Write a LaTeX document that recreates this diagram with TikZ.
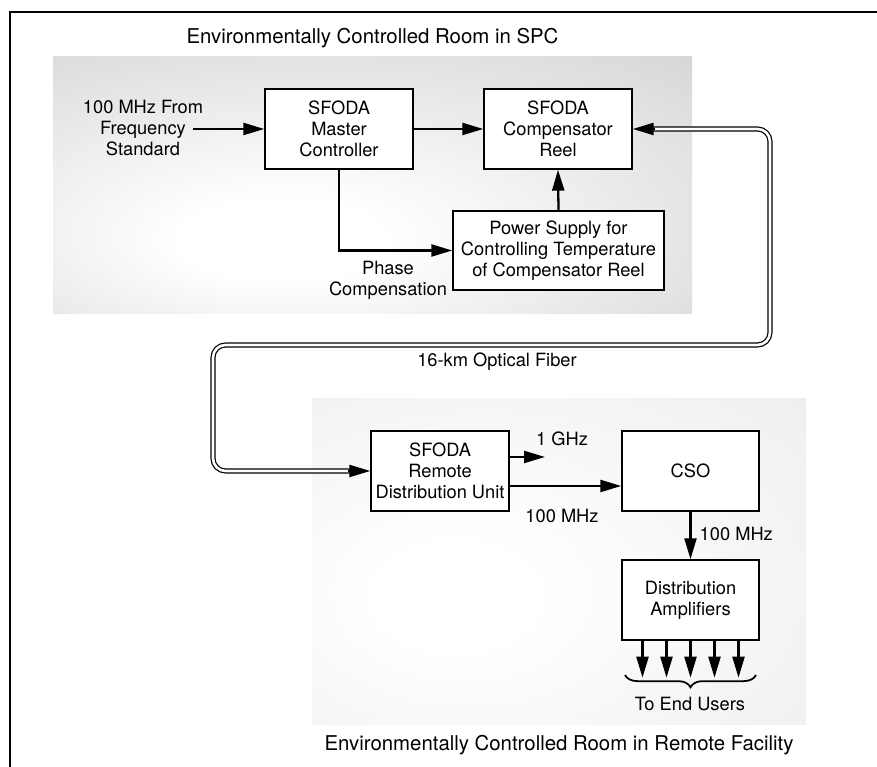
\documentclass[tikz,border=0pt]{standalone}
\usepackage{fontspec}
\setmainfont{TeX Gyre Heros}
\usetikzlibrary{arrows.meta, decorations.pathreplacing}

\pgfdeclareradialshading{spcroom}{\pgfpoint{-8bp}{-12bp}}{color(0bp)=(white); color(8bp)=(white); color(55bp)=(black!22); color(72bp)=(black!30)}
\pgfdeclareradialshading{remoteroom}{\pgfpoint{-12bp}{-6bp}}{color(0bp)=(white); color(8bp)=(white); color(55bp)=(black!9); color(72bp)=(black!13)}

\tikzset{
  box/.style={draw, line width=0.8pt, fill=white, minimum width=2.96cm, minimum height=1.6cm, align=center, inner sep=1pt},
  arr/.style={line width=1.3pt, -{Triangle[length=0.42cm, width=0.24cm]}},
  fiber/.style={double, double distance=1.5pt, line width=0.7pt, rounded corners=0.25cm},
  lbl/.style={align=center},
  roomtitle/.style={font=\fontsize{11.6pt}{14pt}\selectfont}
}

\begin{document}
\begin{tikzpicture}[font=\fontsize{10.4pt}{12pt}\selectfont]
  \useasboundingbox (0,0) rectangle (17.54,15.34);
  %cadre
  \draw[line width=0.9pt] (0.2,0) -- (0.2,15.1) -- (17.54,15.1);
  %salles
  \shade[shading=spcroom] (1.06,9.06) rectangle (13.84,14.2);
  \shade[shading=remoteroom] (6.24,0.84) rectangle (16.12,7.36);
  \node[roomtitle] (spctitle) at (7.45,14.58) {Environmentally Controlled Room in SPC};
  \node[roomtitle] (remtitle) at (11.18,0.44) {Environmentally Controlled Room in Remote Facility};
  %SPC
  \node[box] (master) at (6.78,12.76) {SFODA\\Master\\Controller};
  \node[box] (comp) at (11.16,12.76) {SFODA\\Compensator\\Reel};
  \node[box, minimum width=4.22cm, minimum height=1.58cm] (power) at (11.17,10.33) {Power Supply for\\Controlling Temperature\\of Compensator Reel};
  \node[lbl] (freq) at (2.86,12.78) {100 MHz From\\Frequency\\Standard};
  \coordinate (in) at (3.86,12.76);
  \draw[arr] (in) -- (master.west);
  \draw[arr] (master.east) -- (comp.west);
  \draw[arr] (power.north) -- (comp.south);
  \draw[arr] (master.south) |- (power.west);
  \node[lbl] (phase) at (7.76,9.74) {Phase\\Compensation};
  %fibre
  \coordinate (fr) at (15.4,8.44);
  \coordinate (fl) at (4.26,8.44);
  \node[box, minimum width=2.76cm] (remote) at (8.8,5.92) {SFODA\\Remote\\Distribution Unit};
  \draw[fiber, shorten <=0.4cm, shorten >=0.4cm] (comp.east) -| (fr) -- (fl) |- (remote.west);
  \draw[arr] ([xshift=0.44cm]comp.east) -- (comp.east);
  \draw[arr] ([xshift=-0.44cm]remote.west) -- (remote.west);
  \node (fibtext) at (9.94,8.1) {16-km Optical Fiber};
  %remote
  \node[box, minimum width=2.74cm] (cso) at (13.81,5.92) {CSO};
  \node[box, minimum width=2.74cm] (dist) at (13.81,3.34) {Distribution\\Amplifiers};
  \coordinate (ghz) at (10.9,6.2);
  \draw[arr] (remote.east |- ghz) -- (ghz);
  \node (ghztext) at (11.24,6.56) {1 GHz};
  \draw[arr] ([yshift=-0.3cm]remote.east) -- ([yshift=-0.3cm]cso.west);
  \node (mhztext) at (11.24,5.02) {100 MHz};
  \draw[arr] (cso.south) -- (dist.north);
  \node[anchor=west] (mhzdown) at (13.87,4.66) {100 MHz};
  \foreach \dx in {-0.96,-0.48,0,0.48,0.96}{
    \draw[arr] ([xshift=\dx cm]dist.south) -- ++(0,-0.74);
  }
  \draw[line width=1pt, decorate, decoration={brace, mirror, amplitude=7pt}] (12.5,1.84) -- (15.12,1.84);
  \node (users) at (13.8,1.26) {To End Users};
\end{tikzpicture}
\end{document}
